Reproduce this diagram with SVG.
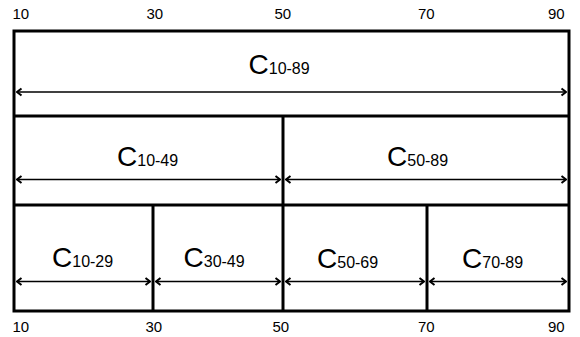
<svg xmlns="http://www.w3.org/2000/svg" width="580" height="337" viewBox="0 0 580 337">
<style>
.box{fill:none;stroke:#000;stroke-width:3}
.div{stroke:#000;stroke-width:3}
.arr{stroke:#000;stroke-width:1.5;fill:none;marker-start:url(#ah);marker-end:url(#ah)}
.lbl{font-family:"Liberation Sans",Arial,sans-serif;fill:#000}
.big{font-size:28px}
.sub{font-size:16px}
.num{font-family:"Liberation Sans",Arial,sans-serif;font-size:15px;fill:#000}
</style>
<defs>
<marker id="ah" viewBox="0 0 10 10" refX="9" refY="5" markerWidth="10" markerHeight="10" markerUnits="userSpaceOnUse" orient="auto-start-reverse">
<path d="M4.5,1.5 L9,5 L4.5,8.5" fill="none" stroke="#000" stroke-width="2"/>
</marker>
</defs>
<rect x="0" y="0" width="580" height="337" fill="#fff"/>
<g id="axis-top">
<text class="num" x="12.5" y="19">10</text>
<text class="num" x="146.5" y="19">30</text>
<text class="num" x="274.5" y="19">50</text>
<text class="num" x="418" y="19">70</text>
<text class="num" x="548" y="19">90</text>
</g>
<g id="axis-bottom">
<text class="num" x="12.5" y="332">10</text>
<text class="num" x="145.5" y="332">30</text>
<text class="num" x="272.5" y="332">50</text>
<text class="num" x="418" y="332">70</text>
<text class="num" x="548" y="332">90</text>
</g>
<g id="frame">
<rect class="box" x="14" y="31" width="555" height="280"/>
<line class="div" x1="14" y1="116" x2="569" y2="116"/>
<line class="div" x1="14" y1="205" x2="569" y2="205"/>
<line class="div" x1="283" y1="116" x2="283" y2="311"/>
<line class="div" x1="153" y1="205" x2="153" y2="311"/>
<line class="div" x1="427" y1="205" x2="427" y2="311"/>
</g>
<g id="connectors">
<line class="arr" x1="17" y1="92" x2="566" y2="92"/>
<line class="arr" x1="17" y1="179.5" x2="280" y2="179.5"/>
<line class="arr" x1="286" y1="179.5" x2="566" y2="179.5"/>
<line class="arr" x1="17" y1="281.5" x2="150" y2="281.5"/>
<line class="arr" x1="156" y1="281.5" x2="280" y2="281.5"/>
<line class="arr" x1="286" y1="281.5" x2="424" y2="281.5"/>
<line class="arr" x1="430" y1="281.5" x2="566" y2="281.5"/>
</g>
<g id="c10-89"><text class="lbl" x="248.5" y="74"><tspan class="big">C</tspan><tspan class="sub">10-89</tspan></text></g>
<g id="c10-49"><text class="lbl" x="117" y="165.5"><tspan class="big">C</tspan><tspan class="sub">10-49</tspan></text></g>
<g id="c50-89"><text class="lbl" x="387" y="166"><tspan class="big">C</tspan><tspan class="sub">50-89</tspan></text></g>
<g id="c10-29"><text class="lbl" x="52" y="267"><tspan class="big">C</tspan><tspan class="sub">10-29</tspan></text></g>
<g id="c30-49"><text class="lbl" x="183.5" y="267"><tspan class="big">C</tspan><tspan class="sub">30-49</tspan></text></g>
<g id="c50-69"><text class="lbl" x="317" y="267.5"><tspan class="big">C</tspan><tspan class="sub">50-69</tspan></text></g>
<g id="c70-89"><text class="lbl" x="462" y="267.5"><tspan class="big">C</tspan><tspan class="sub">70-89</tspan></text></g>
</svg>
